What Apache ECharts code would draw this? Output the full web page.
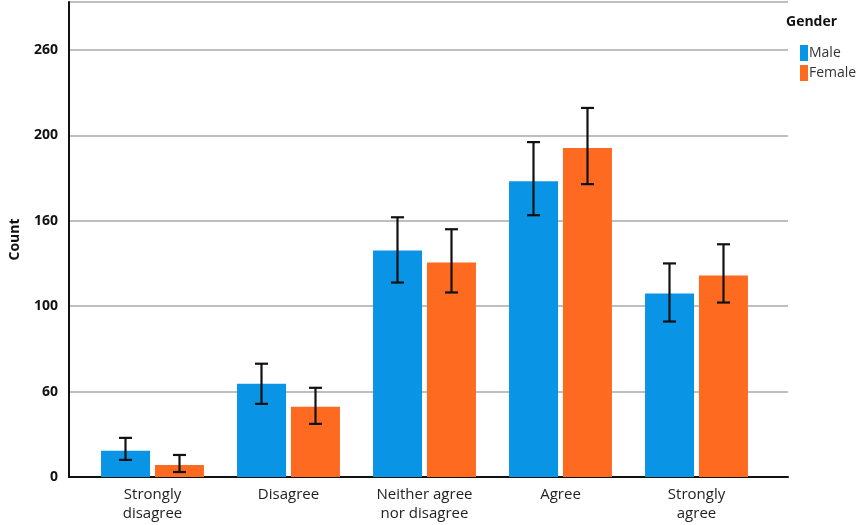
<!DOCTYPE html>
<html>
<head>
<meta charset="utf-8">
<script src="https://cdn.jsdelivr.net/npm/echarts@6/dist/echarts.min.js"></script>
<style>
  html, body { margin: 0; padding: 0; background: #fff; }
  #chart { width: 858px; height: 525px; }
</style>
</head>
<body>
<div id="chart"></div>
<script>
// categories and tick labels
var categories = ['Strongly\ndisagree', 'Disagree', 'Neither agree\nnor disagree', 'Agree', 'Strongly\nagree'];
var tickLabels = ['0', '60', '100', '160', '200', '260'];

// counts and error bar ends
var maleCount = [15.3, 54.6, 132.6, 173.1, 107.4];
var maleLow = [10.0, 42.8, 113.8, 153.2, 91.0];
var maleHigh = [22.9, 66.3, 152.0, 196.0, 125.0];

var femaleCount = [7.0, 41.1, 125.6, 192.5, 118.0];
var femaleLow = [2.9, 31.1, 108.0, 171.4, 102.1];
var femaleHigh = [12.9, 52.2, 145.0, 216.0, 136.2];

var BLUE = '#0A94E6';
var ORANGE = '#FF6A21';
var FONT = 'Open Sans';

var chart = echarts.init(document.getElementById('chart'));

function errData(low, high) {
  return low.map(function (v, i) { return [i, v, high[i]]; });
}

// draws one error bar, shifted left or right of the category center
function errRender(shift) {
  return function (params, api) {
    var lo = api.coord([api.value(0), api.value(1)]);
    var hi = api.coord([api.value(0), api.value(2)]);
    var x = lo[0] + shift;
    var cap = 6.5;
    var style = { stroke: '#111', lineWidth: 2.2 };
    return {
      type: 'group',
      children: [
        { type: 'line', shape: { x1: x, y1: lo[1], x2: x, y2: hi[1] }, style: style },
        { type: 'line', shape: { x1: x - cap, y1: lo[1], x2: x + cap, y2: lo[1] }, style: style },
        { type: 'line', shape: { x1: x - cap, y1: hi[1], x2: x + cap, y2: hi[1] }, style: style }
      ]
    };
  };
}

var option = {
  animation: false,
  textStyle: { fontFamily: FONT },
  title: {
    text: 'Gender',
    left: 781,
    top: 10,
    textStyle: { fontFamily: FONT, fontSize: 14, fontWeight: 'bold', color: '#111' }
  },
  legend: {
    orient: 'vertical',
    left: 795,
    top: 40,
    icon: 'rect',
    itemWidth: 8,
    itemHeight: 16,
    itemGap: 4,
    data: ['Male', 'Female'],
    textStyle: { fontFamily: FONT, fontSize: 14, color: '#333', padding: [0, 0, 0, -4] }
  },
  grid: [
    { left: 61, right: 70, top: 2, bottom: 48 },
    { left: 84.5, right: 93.5, top: 2, bottom: 48 }
  ],
  xAxis: [
    {
      type: 'category',
      gridIndex: 0,
      data: categories,
      axisLine: { lineStyle: { color: '#111', width: 2 } },
      axisTick: { show: false },
      axisLabel: { show: false }
    },
    {
      type: 'category',
      gridIndex: 1,
      data: categories,
      axisLine: { show: false },
      axisTick: { show: false },
      axisLabel: {
        margin: 8,
        fontFamily: FONT,
        fontSize: 15,
        lineHeight: 19,
        color: '#222'
      }
    }
  ],
  yAxis: [
    {
      type: 'value',
      gridIndex: 0,
      min: 0,
      max: 278,
      interval: 50,
      name: 'Count',
      nameLocation: 'middle',
      nameRotate: 90,
      nameGap: 47,
      nameTextStyle: { fontFamily: FONT, fontSize: 14, fontWeight: 'bold', color: '#111' },
      axisLine: { show: true, lineStyle: { color: '#111', width: 2 } },
      axisTick: { show: false },
      splitLine: { lineStyle: { color: '#BEBEBE', width: 2 } },
      axisLabel: {
        margin: 11,
        fontFamily: FONT,
        fontSize: 14,
        fontWeight: 'bold',
        color: '#111',
        formatter: function (v) { return tickLabels[Math.round(v / 50)]; }
      }
    },
    {
      type: 'value',
      gridIndex: 1,
      min: 0,
      max: 278,
      interval: 50,
      show: false,
      splitLine: { show: false }
    }
  ],
  series: [
    {
      name: 'Male',
      type: 'bar',
      xAxisIndex: 1,
      yAxisIndex: 1,
      data: maleCount,
      barWidth: 49,
      barGap: '10%',
      itemStyle: { color: BLUE }
    },
    {
      name: 'Female',
      type: 'bar',
      xAxisIndex: 1,
      yAxisIndex: 1,
      data: femaleCount,
      barWidth: 49,
      barGap: '10%',
      itemStyle: { color: ORANGE }
    },
    {
      type: 'custom',
      xAxisIndex: 1,
      yAxisIndex: 1,
      data: errData(maleLow, maleHigh),
      encode: { x: 0, y: [1, 2] },
      renderItem: errRender(-27),
      z: 10
    },
    {
      type: 'custom',
      xAxisIndex: 1,
      yAxisIndex: 1,
      data: errData(femaleLow, femaleHigh),
      encode: { x: 0, y: [1, 2] },
      renderItem: errRender(27),
      z: 10
    }
  ]
};

chart.setOption(option);
</script>
</body>
</html>
